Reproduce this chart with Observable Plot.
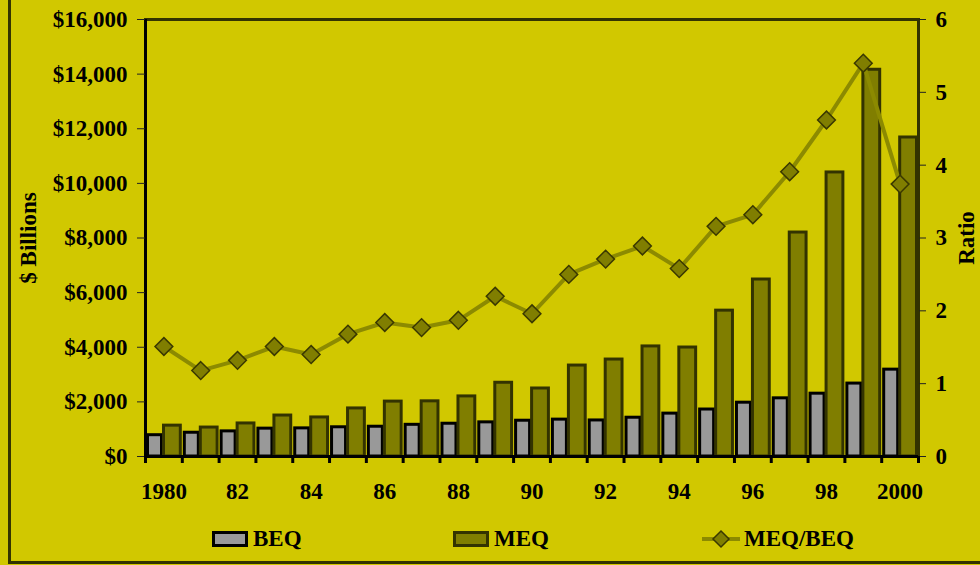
<!DOCTYPE html>
<html>
<head>
<meta charset="utf-8">
<script src="https://cdn.jsdelivr.net/npm/d3@7"></script>
<script src="https://cdn.jsdelivr.net/npm/@observablehq/plot@0.6"></script>
<style>
  html, body { margin: 0; padding: 0; background: #d1c800; }
  #wrap { position: relative; width: 980px; height: 565px; overflow: hidden; background: #d1c800;
          font-family: "Liberation Serif", "Times New Roman", serif; font-weight: bold; }
  #border { position: absolute; left: 8px; top: -10px; width: 990px; height: 574px;
            border: 3px solid #333300; box-sizing: border-box; pointer-events: none; }
  #chart { position: absolute; left: 0; top: 0; }
  .leg { position: absolute; top: 524px; height: 30px; display: flex; align-items: center;
         font-size: 23px; color: #000; }
  .sw { display: inline-block; box-sizing: border-box; width: 36px; height: 16px; margin-right: 5px; }
</style>
</head>
<body>
<div id="wrap">
  <div id="chart"></div>
  <div class="leg" style="left:212px"><span class="sw" style="background:#999999;border:3px solid #000"></span>BEQ</div>
  <div class="leg" style="left:453px"><span class="sw" style="background:#807e00;border:3px solid #333300"></span>MEQ</div>
  <div class="leg" style="left:702px">
    <svg width="38" height="20" style="margin-right:4px">
      <line x1="0" y1="10" x2="38" y2="10" stroke="#8c8a00" stroke-width="4"/>
      <path d="M19,2 L27,10 L19,18 L11,10 Z" fill="#807e00" stroke="#3a3800" stroke-width="1.5"/>
    </svg>MEQ/BEQ</div>
  <div id="border"></div>
</div>
<script>
// Book equity, market equity ($ billions) and their ratio, 1980–2000
const years = d3.range(1980, 2001);
const BEQ = [780, 870, 920, 1020, 1030, 1070, 1090, 1160, 1200, 1250, 1310,
             1350, 1320, 1420, 1570, 1720, 1970, 2130, 2300, 2670, 3180];
const MEQ = [1130, 1060, 1210, 1500, 1430, 1760, 2010, 2020, 2200, 2700, 2490,
             3330, 3550, 4030, 3990, 5340, 6480, 8200, 10400, 14160, 11680];
const RATIO = [1.51, 1.18, 1.32, 1.51, 1.40, 1.68, 1.84, 1.77, 1.87, 2.20, 1.96,
               2.50, 2.71, 2.89, 2.58, 3.16, 3.32, 3.91, 4.62, 5.40, 3.74];
const leftTicks = d3.range(0, 16001, 2000);
const rightTicks = d3.range(0, 7);

const rows = years.map((year, i) => ({year, beq: BEQ[i], meq: MEQ[i], ratio: RATIO[i]}));

const W = 980, H = 500, ML = 145, MR = 62, MT = 19, MB = 44;
const bw = (W - ML - MR) / years.length;
// the ratio shares the dollar axis: 6 on the right lines up with $16,000 on the left
const K = 16000 / 6;

const yearLabel = d => (d === 1980 || d === 2000) ? String(d) : (d % 2 === 0 ? String(d).slice(2) : "");

const chart = Plot.plot({
  width: W, height: H,
  marginLeft: ML, marginRight: MR, marginTop: MT, marginBottom: MB,
  style: {background: "transparent", fontFamily: "'Liberation Serif', 'Times New Roman', serif",
          fontWeight: "bold", fontSize: "23px", color: "#000", overflow: "visible"},
  x: {type: "band", domain: years, padding: 0, round: false},
  y: {domain: [0, 16000]},
  marks: [
    Plot.frame({stroke: "#333300", strokeWidth: 3}),
    Plot.barY(rows, {x: "year", y: "beq", fill: "#999999", stroke: "#000", strokeWidth: 3,
                     insetLeft: 2.5, insetRight: bw - 16.5}),
    Plot.barY(rows, {x: "year", y: "meq", fill: "#807e00", stroke: "#333300", strokeWidth: 3,
                     insetLeft: 18.5, insetRight: 1.5}),
    Plot.line(rows, {x: "year", y: d => d.ratio * K, stroke: "#8c8a00", strokeWidth: 4}),
    Plot.dot(rows, {x: "year", y: d => d.ratio * K, symbol: "diamond2", r: 8,
                    fill: "#807e00", stroke: "#3a3800", strokeWidth: 1.5}),
    Plot.ruleX([years[0]], {dx: -bw / 2, stroke: "#000", strokeWidth: 3}),
    Plot.ruleY([0], {stroke: "#000", strokeWidth: 3}),
    Plot.axisY({ticks: leftTicks, tickFormat: d => "$" + d3.format(",")(d), tickSize: 8,
                tickPadding: 10, stroke: "#222", label: null}),
    Plot.axisY({anchor: "right", ticks: rightTicks.map(r => r * K), tickFormat: d => String(Math.round(d / K)),
                tickSize: 7, tickPadding: 10, stroke: "#222", label: null}),
    Plot.axisX({tickSize: 7, tickFormat: () => "", dx: -bw / 2, stroke: "#000", strokeWidth: 3, label: null}),
    Plot.axisX({ticks: [years[years.length - 1]], tickSize: 7, tickFormat: () => "", dx: bw / 2,
                stroke: "#000", strokeWidth: 3, label: null}),
    Plot.axisX({tickSize: 0, tickPadding: 26, tickFormat: yearLabel, label: null}),
    Plot.text(["$ Billions"], {frameAnchor: "left", textAnchor: "middle", dx: -117, rotate: -90, fontSize: 23}),
    Plot.text(["Ratio"], {frameAnchor: "right", textAnchor: "middle", dx: 48, rotate: -90, fontSize: 23})
  ]
});
document.getElementById("chart").appendChild(chart);
</script>
</body>
</html>
